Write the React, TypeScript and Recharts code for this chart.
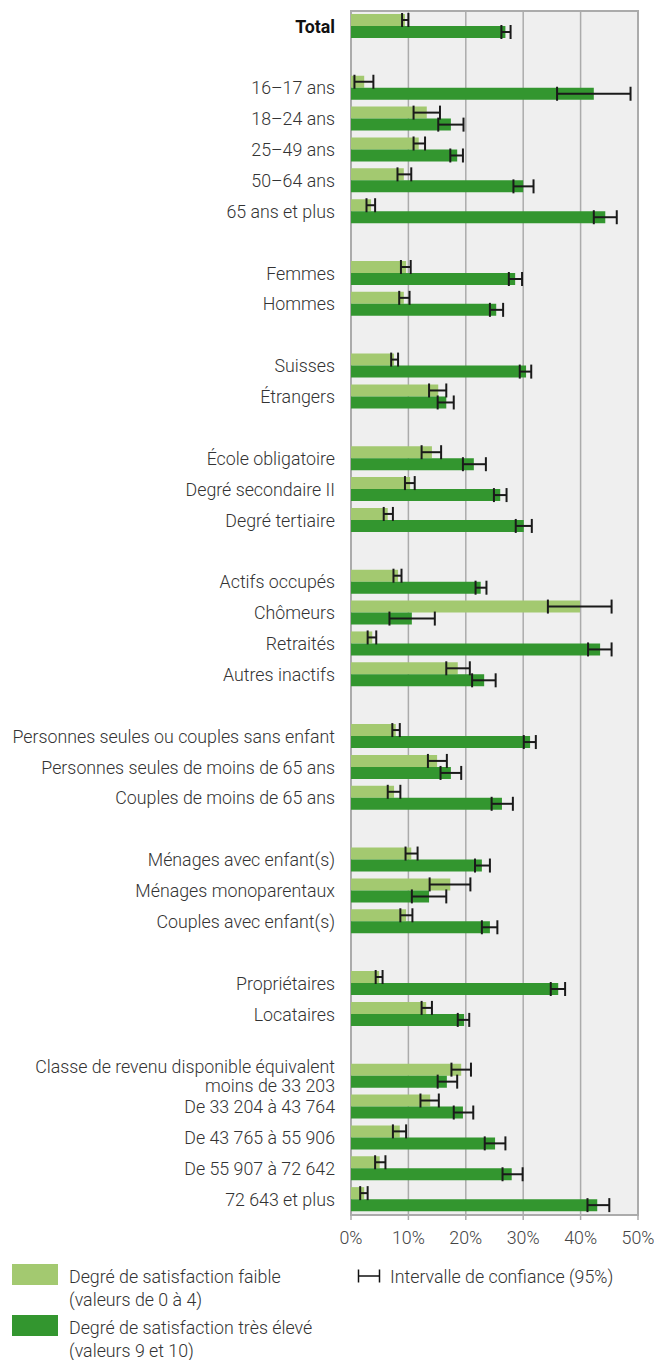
import { BarChart, Bar, XAxis, YAxis, CartesianGrid, ErrorBar, ReferenceArea } from 'recharts'

const categories = [
  'Total', '',
  '16–17 ans', '18–24 ans', '25–49 ans', '50–64 ans', '65 ans et plus', '',
  'Femmes', 'Hommes', '',
  'Suisses', 'Étrangers', '',
  'École obligatoire', 'Degré secondaire II', 'Degré tertiaire', '',
  'Actifs occupés', 'Chômeurs', 'Retraités', 'Autres inactifs', '',
  'Personnes seules ou couples sans enfant', 'Personnes seules de moins de 65 ans', 'Couples de moins de 65 ans', '',
  'Ménages avec enfant(s)', 'Ménages monoparentaux', 'Couples avec enfant(s)', '',
  'Propriétaires', 'Locataires', '',
  'Classe de revenu disponible équivalent\nmoins de 33 203', 'De 33 204 à 43 764', 'De 43 765 à 55 906', 'De 55 907 à 72 642', '72 643 et plus',
]

// degré de satisfaction faible (0-4), en %
const low = [9.4, null, 2.3, 13.2, 11.8, 9.2, 3.5, null, 9.6, 9.2, null, 7.5, 15.2, null, 14.1, 10.3, 6.4, null, 8.2, 39.9, 3.7, 18.6, null, 7.8, 15.0, 7.5, null, 10.5, 17.3, 9.6, null, 4.9, 13.1, null, 19.2, 13.8, 8.5, 5.0, 2.3]
const lowCiLo = [8.9, null, 0.6, 10.9, 10.9, 8.1, 2.7, null, 8.7, 8.4, null, 7.0, 13.6, null, 12.3, 9.4, 5.7, null, 7.4, 34.3, 2.9, 16.6, null, 7.2, 13.4, 6.4, null, 9.5, 13.7, 8.6, null, 4.3, 12.3, null, 17.5, 12.1, 7.3, 4.2, 1.6]
const lowCiHi = [10.0, null, 3.9, 15.5, 12.9, 10.5, 4.2, null, 10.4, 10.2, null, 8.2, 16.6, null, 15.7, 11.1, 7.3, null, 8.8, 45.4, 4.4, 20.7, null, 8.5, 16.7, 8.6, null, 11.6, 20.8, 10.7, null, 5.5, 14.1, null, 20.9, 15.3, 9.6, 6.0, 2.9]

// degré de satisfaction très élevé (9-10), en %
const high = [26.9, null, 42.3, 17.4, 18.5, 30.0, 44.3, null, 28.6, 25.3, null, 30.5, 16.6, null, 21.4, 26.0, 30.1, null, 22.6, 10.6, 43.4, 23.2, null, 31.2, 17.4, 26.3, null, 22.8, 13.6, 24.2, null, 36.1, 19.7, null, 16.7, 19.5, 25.1, 28.0, 42.9]
const highCiLo = [26.2, null, 35.9, 15.2, 17.3, 28.3, 42.3, null, 27.5, 24.2, null, 29.4, 15.1, null, 19.5, 24.9, 28.7, null, 21.7, 6.7, 41.3, 21.1, null, 30.1, 15.6, 24.5, null, 21.6, 10.6, 22.8, null, 34.8, 18.6, null, 15.1, 17.9, 23.3, 26.4, 41.2]
const highCiHi = [27.8, null, 48.7, 19.6, 19.5, 31.8, 46.3, null, 29.8, 26.5, null, 31.4, 17.9, null, 23.5, 27.1, 31.5, null, 23.6, 14.6, 45.4, 25.2, null, 32.2, 19.2, 28.2, null, 24.2, 16.6, 25.5, null, 37.3, 20.6, null, 18.5, 21.3, 26.9, 29.9, 45.0]

const xTicks = [0, 10, 20, 30, 40, 50]

const LIGHT = '#a3c970'
const DARK = '#33962f'
const GRID = '#ababab'
const FONT = 'Roboto, "Noto Sans", sans-serif'

const data = categories.map((name, i) => ({
  id: String(i),
  name,
  low: low[i],
  high: high[i],
  lowErr: low[i] == null ? null : [low[i]! - lowCiLo[i]!, lowCiHi[i]! - low[i]!],
  highErr: high[i] == null ? null : [high[i]! - highCiLo[i]!, highCiHi[i]! - high[i]!],
}))

function CategoryTick({ y, payload }: any) {
  const label = categories[Number(payload.value)] || ''
  if (!label) return null
  const lines = label.split('\n')
  const bold = label === 'Total'
  return (
    <text
      x={335}
      y={y}
      textAnchor="end"
      fill={bold ? '#111' : '#333'}
      fontFamily={FONT}
      fontWeight={bold ? 700 : 300}
      fontSize={17.8}
    >
      {lines.map((l: string, k: number) => (
        <tspan key={k} x={335} dy={k === 0 ? (lines.length > 1 ? -3.3 : 6.2) : 19}>
          {l}
        </tspan>
      ))}
    </text>
  )
}

function CiIcon() {
  return (
    <svg width={24} height={16} style={{ position: 'absolute', left: 357, top: 1268 }}>
      <line x1={1} y1={8} x2={23} y2={8} stroke="#111" strokeWidth={1.5} />
      <line x1={1.5} y1={1.5} x2={1.5} y2={14.5} stroke="#111" strokeWidth={1.5} />
      <line x1={22.5} y1={1.5} x2={22.5} y2={14.5} stroke="#111" strokeWidth={1.5} />
    </svg>
  )
}

const legendText = {
  position: 'absolute' as const,
  fontFamily: FONT,
  fontWeight: 300,
  fontSize: 17.8,
  lineHeight: '23px',
  color: '#333',
  whiteSpace: 'nowrap' as const,
}

export default function App() {
  return (
    <div style={{ position: 'absolute', left: 0, top: 0, width: 672, height: 1360, background: '#fff' }}>
      <BarChart
        width={672}
        height={1250}
        data={data}
        layout="vertical"
        margin={{ top: 11, right: 34, left: 0, bottom: 0 }}
        barGap={0}
        barSize={12}
      >
        <CartesianGrid horizontal={false} stroke={GRID} strokeWidth={1.5} fill="#efefef" />
        <XAxis
          type="number"
          domain={[0, 50]}
          ticks={xTicks}
          tickFormatter={(v) => `${v}%`}
          height={35}
          axisLine={{ stroke: GRID, strokeWidth: 2 }}
          tickLine={{ stroke: GRID, strokeWidth: 1.5 }}
          tickSize={5}
          tickMargin={11}
          tick={{ fontSize: 17.8, fill: '#444', fontFamily: FONT, fontWeight: 300 }}
        />
        <YAxis
          type="category"
          dataKey="id"
          width={351}
          interval={0}
          axisLine={false}
          tickLine={false}
          tick={<CategoryTick />}
        />
        <Bar dataKey="low" fill={LIGHT} isAnimationActive={false}>
          <ErrorBar dataKey="lowErr" direction="x" width={7} stroke="#1a1a1a" strokeWidth={2} />
        </Bar>
        <Bar dataKey="high" fill={DARK} isAnimationActive={false}>
          <ErrorBar dataKey="highErr" direction="x" width={7} stroke="#1a1a1a" strokeWidth={2} />
        </Bar>
        <ReferenceArea x1={0} x2={50} fill="none" stroke={GRID} strokeWidth={2} ifOverflow="visible" />
      </BarChart>

      <div style={{ position: 'absolute', left: 12, top: 1264, width: 46, height: 21, background: LIGHT }} />
      <div style={{ ...legendText, left: 69, top: 1264.5 }}>
        Degré de satisfaction faible
        <br />
        (valeurs de 0 à 4)
      </div>
      <div style={{ position: 'absolute', left: 12, top: 1315, width: 46, height: 21, background: DARK }} />
      <div style={{ ...legendText, left: 69, top: 1316 }}>
        Degré de satisfaction très élevé
        <br />
        (valeurs 9 et 10)
      </div>
      <CiIcon />
      <div style={{ ...legendText, left: 390, top: 1264.5 }}>Intervalle de confiance (95%)</div>
    </div>
  )
}
